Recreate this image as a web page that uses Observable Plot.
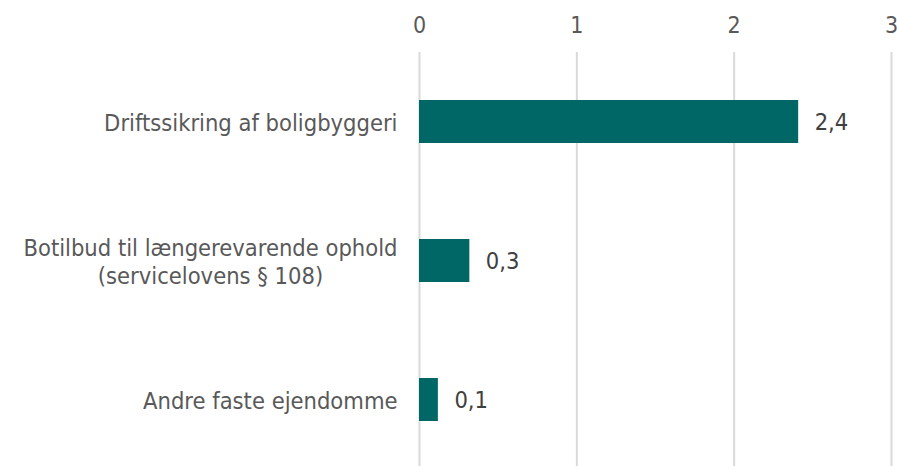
<!DOCTYPE html>
<html>
<head>
<meta charset="utf-8">
<script src="https://cdn.jsdelivr.net/npm/d3@7"></script>
<script src="https://cdn.jsdelivr.net/npm/@observablehq/plot@0.6"></script>
<style>
  html, body { margin: 0; padding: 0; background: #fff; overflow: hidden; }
  #chart svg { display: block; }
</style>
</head>
<body>
<div id="chart"></div>
<script>
const categories = [
  "Driftssikring af boligbyggeri",
  "Botilbud til længerevarende ophold\n(servicelovens § 108)",
  "Andre faste ejendomme"
];
const values = [2.41, 0.32, 0.12];
const valueLabels = ["2,4", "0,3", "0,1"];
const xTicks = [0, 1, 2, 3];

const data = categories.map((c, i) => ({cat: c, value: values[i], label: valueLabels[i]}));

const font = "'DejaVu Sans Condensed', 'DejaVu Sans', sans-serif";
const textColor = "#595959";

const chart = Plot.plot({
  width: 897,
  height: 469,
  marginTop: 52,
  marginBottom: 0,
  marginLeft: 419,
  marginRight: 6,
  style: {fontFamily: font, fontSize: "21px", color: textColor, background: "#fff"},
  x: {domain: [0, 3], ticks: xTicks, axis: null},
  y: {domain: categories, paddingInner: 0.69, paddingOuter: 0.345, axis: null},
  marks: [
    Plot.ruleX(xTicks, {stroke: "#d9d9d9", strokeWidth: 2, strokeOpacity: 1}),
    Plot.text(xTicks, {x: d => d, frameAnchor: "top", lineAnchor: "middle", dy: -27, text: d => String(d), fill: textColor, fontSize: 23}),
    Plot.barX(data, {y: "cat", x: "value", fill: "#006666"}),
    Plot.text(data, {y: "cat", x: 0, text: "cat", textAnchor: "end", dx: -22, fill: textColor, fontSize: 23.5, lineHeight: 1.2}),
    Plot.text(data, {y: "cat", x: "value", text: "label", textAnchor: "start", dx: 16, fill: "#404040", fontSize: 23.5})
  ]
});
document.getElementById("chart").appendChild(chart);

// center the lines of multi-line category labels (right edge kept)
chart.querySelectorAll("text").forEach(t => {
  const spans = t.querySelectorAll("tspan");
  if (spans.length > 1) {
    const w = t.getBBox().width;
    t.setAttribute("text-anchor", "middle");
    spans.forEach(s => s.setAttribute("text-anchor", "middle"));
    const tr = t.getAttribute("transform") || "";
    t.setAttribute("transform", tr + ` translate(${-w / 2},0)`);
  }
});
</script>
</body>
</html>
